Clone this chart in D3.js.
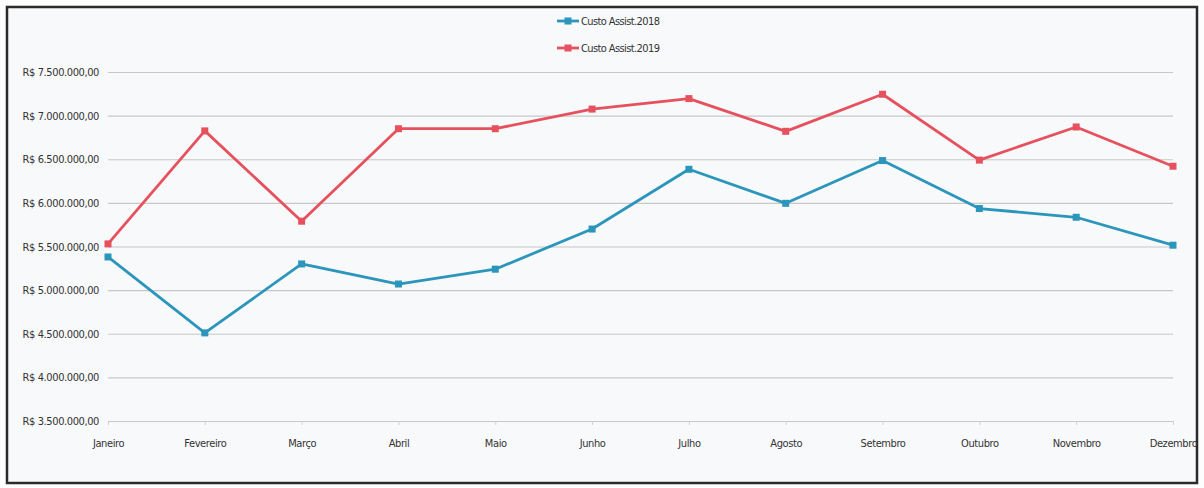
<!DOCTYPE html>
<html><head><meta charset="utf-8">
<script src="https://cdn.jsdelivr.net/npm/d3@7"></script>
<style>
html,body{margin:0;padding:0;background:#fff;}
svg{display:block;}
text{font-family:"Liberation Sans Narrow","DejaVu Sans Condensed","Roboto Condensed",sans-serif;}
</style></head>
<body>
<svg id="c" width="1204" height="488"></svg>
<script>
const months = ["Janeiro","Fevereiro","Março","Abril","Maio","Junho","Julho","Agosto","Setembro","Outubro","Novembro","Dezembro"];
const seriesNames = ["Custo Assist.2018","Custo Assist.2019"];
const values2018 = [5380000,4510000,5300000,5070000,5240000,5700000,6385000,5995000,6485000,5935000,5835000,5515000];
const values2019 = [5530000,6825000,5790000,6850000,6850000,7075000,7195000,6820000,7245000,6490000,6870000,6420000];
const yTicks = [3500000,4000000,4500000,5000000,5500000,6000000,6500000,7000000,7500000];
const colors = ["#2b95bb","#e6515e"];

const svg = d3.select("#c");
const W = 1204, H = 488;
svg.append("rect").attr("x",0).attr("y",0).attr("width",W).attr("height",H).attr("fill","#fdfdfd");
svg.append("rect").attr("x",7).attr("y",7).attr("width",1190).attr("height",476)
  .attr("fill","#f8f9fb").attr("stroke","#2a2a2a").attr("stroke-width",2.5);

const x = d3.scalePoint().domain(months).range([108,1173]).padding(0);
const y = d3.scaleLinear().domain([3500000,7500000]).range([421,72]);

const fmt = v => "R$ " + d3.format(",.2f")(v).replace(/,/g,"#").replace(/\./g,",").replace(/#/g,".");

// gridlines
const yAxis = d3.axisLeft(y).tickValues(yTicks).tickSize(-(1173-108)).tickFormat(fmt).tickPadding(9);
const gy = svg.append("g").attr("transform","translate(108,0)").call(yAxis);
gy.select(".domain").remove();
gy.selectAll(".tick line").attr("stroke","#c8c8c8").attr("stroke-width",1.2);
gy.selectAll(".tick text").attr("fill","#333").style("font-size","11px").style("letter-spacing","-0.4px");

// x axis
const xAxis = d3.axisBottom(x).tickSize(4).tickPadding(14);
const gx = svg.append("g").attr("transform","translate(0,421)").call(xAxis);
gx.select(".domain").attr("stroke","#c8c8c8");
gx.selectAll(".tick line").attr("stroke","#d0d0d0");
gx.selectAll(".tick text").attr("fill","#333").style("font-size","11px").style("letter-spacing","-0.4px");

const data = [values2018, values2019];
const line = d3.line().x((d,i)=>x(months[i])).y(d=>y(d));
data.forEach((vals,k)=>{
  svg.append("path").datum(vals).attr("d",line).attr("fill","none")
    .attr("stroke",colors[k]).attr("stroke-width",2.8).attr("stroke-linejoin","round");
  svg.selectAll(".m"+k).data(vals).enter().append("rect").attr("class","m"+k)
    .attr("x",(d,i)=>x(months[i])-3.5).attr("y",d=>y(d)-3.5)
    .attr("width",7).attr("height",7).attr("fill",colors[k]);
});

// legend
const lg = svg.append("g");
seriesNames.forEach((n,k)=>{
  const ly = 21 + k*27;
  lg.append("line").attr("x1",557).attr("x2",579).attr("y1",ly).attr("y2",ly)
    .attr("stroke",colors[k]).attr("stroke-width",2.8);
  lg.append("rect").attr("x",564.5).attr("y",ly-3.5).attr("width",7).attr("height",7).attr("fill",colors[k]);
  lg.append("text").attr("x",581).attr("y",ly+4).text(n).attr("fill","#333")
    .style("font-size","11px").style("letter-spacing","-0.6px");
});
</script>
</body></html>
